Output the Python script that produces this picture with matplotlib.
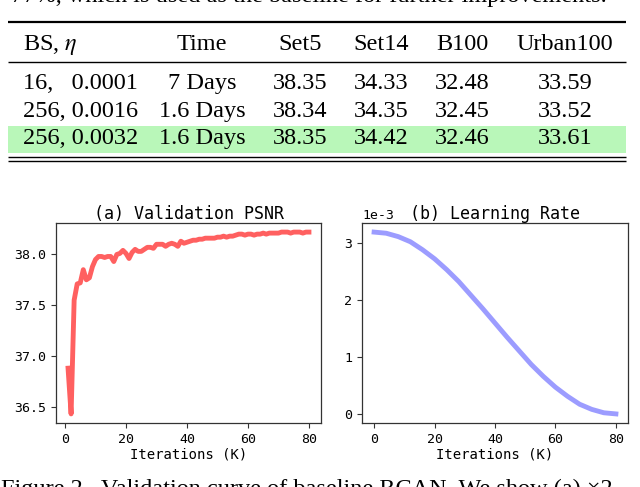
import matplotlib
matplotlib.use("Agg")
import matplotlib.pyplot as plt
import numpy as np

# table contents
header = ["BS, $\\eta$", "Time", "Set5", "Set14", "B100", "Urban100"]
rows = [
    ["16,   0.0001", "7 Days", "38.35", "34.33", "32.48", "33.59"],
    ["256, 0.0016", "1.6 Days", "38.34", "34.35", "32.45", "33.52"],
    ["256, 0.0032", "1.6 Days", "38.35", "34.42", "32.46", "33.61"],
]

# (a) validation PSNR
iters_psnr = list(range(1, 81))
psnr = [36.88, 36.43, 37.55, 37.71, 37.72, 37.85, 37.75, 37.77, 37.88, 37.95,
        37.98, 37.98, 37.97, 37.98, 37.98, 37.93, 38.00, 38.01, 38.04, 38.01,
        37.96, 38.02, 38.05, 38.03, 38.03, 38.05, 38.07, 38.07, 38.06, 38.10,
        38.10, 38.10, 38.08, 38.10, 38.11, 38.10, 38.08, 38.13, 38.11, 38.12,
        38.13, 38.14, 38.14, 38.15, 38.15, 38.16, 38.16, 38.16, 38.16, 38.17,
        38.17, 38.18, 38.17, 38.18, 38.18, 38.19, 38.20, 38.20, 38.19, 38.20,
        38.20, 38.19, 38.20, 38.20, 38.21, 38.20, 38.21, 38.21, 38.21, 38.21,
        38.22, 38.22, 38.22, 38.21, 38.22, 38.22, 38.22, 38.21, 38.22, 38.22]

# (b) learning rate schedule, read every 4K iterations
iters_lr = [0, 4, 8, 12, 16, 20, 24, 28, 32, 36, 40, 44, 48, 52, 56, 60, 64, 68, 72, 76, 80]
lr = [3.20e-3, 3.18e-3, 3.12e-3, 3.03e-3, 2.89e-3, 2.73e-3, 2.54e-3, 2.33e-3, 2.09e-3,
      1.85e-3, 1.60e-3, 1.35e-3, 1.11e-3, 0.87e-3, 0.66e-3, 0.47e-3, 0.31e-3, 0.17e-3,
      0.08e-3, 0.02e-3, 0.00e-3]

plt.rcParams["mathtext.fontset"] = "stix"
plt.rcParams["axes.unicode_minus"] = False

serif = "Liberation Serif"
W, H = 640, 487
fig = plt.figure(figsize=(6.4, 4.87), dpi=100)

# page layer in pixel coordinates
page = fig.add_axes([0, 0, 1, 1])
page.set_xlim(0, W)
page.set_ylim(H, 0)
page.axis("off")

fs = 17.5
page.text(607, 2, "77%, which is used as the baseline for further improvements.",
          fontsize=fs, family=serif, ha="right", va="baseline")

# rules
page.hlines(22, 8, 626, color="black", lw=1.6)
page.hlines(62, 8, 626, color="black", lw=1.0)
page.hlines([157, 160.5], 8, 626, color="black", lw=1.0)
# green highlight on the last row
page.fill_between([8, 626], 126, 153, color="#b9f7b9", lw=0)

col_x = [23, 202, 300, 381, 462, 565]
col_ha = ["left", "center", "center", "center", "center", "center"]
for x, ha, t in zip(col_x, col_ha, header):
    page.text(x, 50, t, fontsize=fs, family=serif, ha=ha, va="baseline")
row_y = [89, 117, 144]
for y, r in zip(row_y, rows):
    for x, ha, t in zip(col_x, col_ha, r):
        page.text(x, y, t, fontsize=fs, family=serif, ha=ha, va="baseline")

page.text(1, 495, "Figure 2.  Validation curve of baseline RCAN. We show (a) \u00d72",
          fontsize=fs, family=serif, ha="left", va="baseline")

mono = "DejaVu Sans Mono"
plt.rcParams["font.family"] = mono


def style(ax):
    for s in ax.spines.values():
        s.set_color("#333333")
        s.set_linewidth(0.9)
    ax.tick_params(labelsize=9.5, color="#333333", length=3.5)
    ax.set_xlabel("Iterations (K)", fontsize=10, family=mono, labelpad=1)


ax1 = fig.add_axes([56 / W, (H - 423) / H, 265 / W, 200 / H])
ax1.plot(iters_psnr, psnr, color="#ff6060", lw=3.5)
ax1.set_title("(a) Validation PSNR", fontsize=12, family=mono, pad=3)
ax1.set_yticks([36.5, 37.0, 37.5, 38.0])
ax1.set_xticks([0, 20, 40, 60, 80])
style(ax1)

ax2 = fig.add_axes([362 / W, (H - 423) / H, 266 / W, 200 / H])
ax2.plot(iters_lr, lr, color="#9c9cff", lw=3.5)
ax2.set_title("(b) Learning Rate", fontsize=12, family=mono, pad=3)
ax2.set_xticks([0, 20, 40, 60, 80])
ax2.set_yticks([0, 1e-3, 2e-3, 3e-3])
ax2.ticklabel_format(axis="y", style="sci", scilimits=(0, 0))
ax2.yaxis.get_offset_text().set_fontsize(9.5)
style(ax2)

fig.savefig("out.png", dpi=100)
